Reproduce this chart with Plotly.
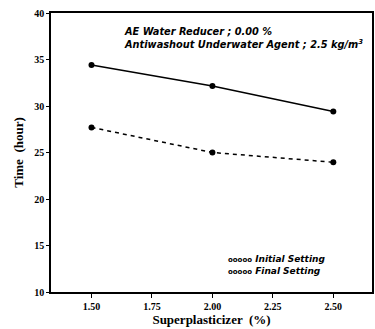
import plotly.graph_objects as go

superplasticizer = [1.50, 2.00, 2.50]
initial_setting = [34.4, 32.15, 29.4]
final_setting = [27.7, 25.0, 23.95]
x_ticks = [1.50, 1.75, 2.00, 2.25, 2.50]
x_tick_labels = ["1.50", "1.75", "2.00", "2.25", "2.50"]
y_ticks = [10, 15, 20, 25, 30, 35, 40]

serif = "Liberation Serif"
sans = "DejaVu Sans"

fig = go.Figure()
fig.add_trace(go.Scatter(
    x=superplasticizer, y=initial_setting, mode="lines+markers",
    line=dict(color="black", width=1.5),
    marker=dict(symbol="circle", size=6, color="black"),
    name="Initial Setting", showlegend=False))
fig.add_trace(go.Scatter(
    x=superplasticizer, y=final_setting, mode="lines+markers",
    line=dict(color="black", width=1.5, dash="4px,4px"),
    marker=dict(symbol="circle", size=6, color="black"),
    name="Final Setting", showlegend=False))

fig.update_layout(
    width=375, height=329,
    margin=dict(l=51, r=1, t=13, b=37),
    paper_bgcolor="white", plot_bgcolor="white",
    font=dict(family=serif, color="black"),
    xaxis=dict(
        range=[1.3325, 2.66], tickvals=x_ticks,
        ticktext=["<b>%s</b>" % t for t in x_tick_labels],
        ticks="outside", ticklen=4, tickcolor="black", showgrid=False,
        showline=True, linecolor="black", linewidth=1.5, mirror=True,
        zeroline=False,
        tickfont=dict(family=serif, size=10, color="black"),
        title=dict(text="<b>Superplasticizer  (%)</b>", standoff=2,
                   font=dict(family=serif, size=13, color="black"))),
    yaxis=dict(
        range=[10, 40], tickvals=y_ticks,
        ticktext=["<b>%d</b>" % t for t in y_ticks],
        ticks="outside", ticklen=3, tickcolor="black", showgrid=False,
        showline=True, linecolor="black", linewidth=1.5, mirror=True,
        zeroline=False,
        tickfont=dict(family=serif, size=10, color="black"),
        title=dict(text="<b>Time  (hour)</b>", standoff=8,
                   font=dict(family=serif, size=13, color="black"))),
)

fig.add_annotation(
    xref="paper", yref="paper", x=0.222, y=0.96, xanchor="left", yanchor="top",
    text="<b><i>AE Water Reducer ; 0.00 %<br>Antiwashout Underwater Agent ; 2.5 kg/m<sup>3</sup></i></b>",
    showarrow=False, align="left",
    font=dict(family=sans, size=9.8, color="black"))

fig.add_annotation(
    xref="paper", yref="paper", x=0.545, y=0.145, xanchor="left", yanchor="top",
    text="<b><span style='font-size:7px'>ooooo</span> <i>Initial Setting</i><br><span style='font-size:7px'>ooooo</span> <i>Final Setting</i></b>",
    showarrow=False, align="left",
    font=dict(family=sans, size=9, color="black"))

fig.write_html("out.html", config={"displayModeBar": False},
               post_script="document.body.style.margin='0';document.body.style.padding='0';")
